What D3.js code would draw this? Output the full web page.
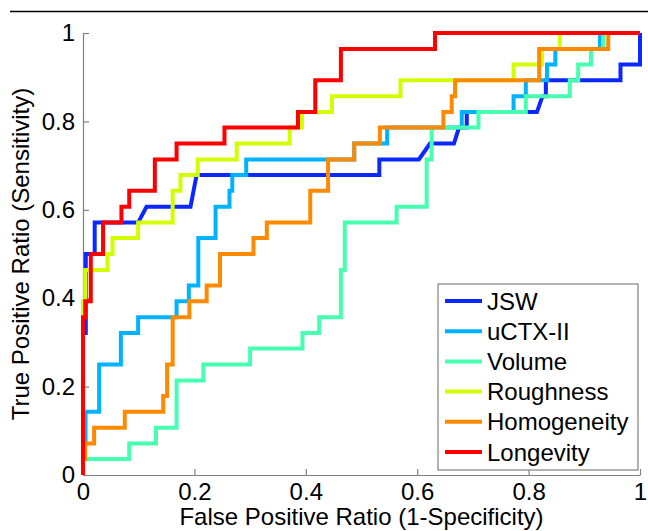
<!DOCTYPE html>
<html>
<head>
<meta charset="utf-8">
<script src="https://cdn.jsdelivr.net/npm/d3@7"></script>
<style>
  body { margin: 0; background: #fff; }
  svg { display: block; font-family: "Liberation Sans", Arial, sans-serif; }
</style>
</head>
<body>
<div id="chart"></div>
<script>
'use strict'

// series names, legend order (also draw order)
const names = ['JSW', 'uCTX-II', 'Volume', 'Roughness', 'Homogeneity', 'Longevity']
const colors = ['#0a28ff', '#00b2ff', '#46ffb0', '#d2ff00', '#ff8a00', '#ff0000']

// ROC vertices (false positive ratio, true positive ratio)
const jswFpr = [0, 0, 0.005, 0.005, 0.021, 0.021, 0.099, 0.114, 0.193, 0.204, 0.532, 0.532, 0.603, 0.623, 0.666, 0.675, 0.689, 0.689, 0.815, 0.825, 0.831, 0.831, 0.965, 0.965, 1, 1]
const jswTpr = [0, 0.321, 0.321, 0.5, 0.5, 0.571, 0.571, 0.607, 0.607, 0.679, 0.679, 0.714, 0.714, 0.75, 0.75, 0.786, 0.786, 0.821, 0.821, 0.857, 0.857, 0.893, 0.893, 0.929, 0.929, 1]

const ctxFpr = [0, 0, 0.0045, 0.0045, 0.029, 0.029, 0.068, 0.068, 0.099, 0.099, 0.168, 0.168, 0.19, 0.19, 0.207, 0.207, 0.238, 0.238, 0.263, 0.263, 0.268, 0.268, 0.293, 0.293, 0.487, 0.487, 0.546, 0.546, 0.68, 0.68, 0.773, 0.773, 0.795, 0.795, 0.833, 0.833, 0.848, 0.848, 0.928, 0.928, 1]
const ctxTpr = [0, 0.071, 0.071, 0.143, 0.143, 0.25, 0.25, 0.321, 0.321, 0.357, 0.357, 0.393, 0.393, 0.429, 0.429, 0.536, 0.536, 0.607, 0.607, 0.643, 0.643, 0.679, 0.679, 0.714, 0.714, 0.75, 0.75, 0.786, 0.786, 0.821, 0.821, 0.857, 0.857, 0.893, 0.893, 0.929, 0.929, 0.964, 0.964, 1, 1]

const volFpr = [0, 0, 0.083, 0.083, 0.131, 0.131, 0.168, 0.168, 0.216, 0.216, 0.3, 0.3, 0.394, 0.394, 0.424, 0.424, 0.463, 0.463, 0.47, 0.47, 0.563, 0.563, 0.617, 0.617, 0.626, 0.626, 0.71, 0.71, 0.795, 0.795, 0.874, 0.874, 0.889, 0.889, 0.912, 0.912, 0.934, 0.934, 1]
const volTpr = [0, 0.036, 0.036, 0.071, 0.071, 0.107, 0.107, 0.214, 0.214, 0.25, 0.25, 0.286, 0.286, 0.321, 0.321, 0.357, 0.357, 0.464, 0.464, 0.571, 0.571, 0.607, 0.607, 0.714, 0.714, 0.786, 0.786, 0.821, 0.821, 0.857, 0.857, 0.893, 0.893, 0.929, 0.929, 0.964, 0.964, 1, 1]

const rouFpr = [0, 0, 0.004, 0.004, 0.044, 0.044, 0.053, 0.053, 0.099, 0.099, 0.161, 0.161, 0.175, 0.175, 0.206, 0.206, 0.276, 0.276, 0.371, 0.371, 0.393, 0.393, 0.447, 0.447, 0.57, 0.57, 0.773, 0.773, 0.824, 0.824, 0.856, 0.856, 1]
const rouTpr = [0, 0.393, 0.393, 0.464, 0.464, 0.5, 0.5, 0.536, 0.536, 0.571, 0.571, 0.643, 0.643, 0.679, 0.679, 0.714, 0.714, 0.75, 0.75, 0.786, 0.786, 0.821, 0.821, 0.857, 0.857, 0.893, 0.893, 0.929, 0.929, 0.964, 0.964, 1, 1]

const homFpr = [0, 0, 0.004, 0.004, 0.02, 0.02, 0.075, 0.075, 0.144, 0.144, 0.151, 0.151, 0.161, 0.161, 0.191, 0.191, 0.222, 0.222, 0.246, 0.246, 0.306, 0.306, 0.33, 0.33, 0.408, 0.408, 0.44, 0.44, 0.487, 0.487, 0.533, 0.533, 0.647, 0.647, 0.662, 0.662, 0.668, 0.668, 0.819, 0.819, 0.943, 0.943, 1]
const homTpr = [0, 0.036, 0.036, 0.071, 0.071, 0.107, 0.107, 0.143, 0.143, 0.179, 0.179, 0.25, 0.25, 0.357, 0.357, 0.393, 0.393, 0.429, 0.429, 0.5, 0.5, 0.536, 0.536, 0.571, 0.571, 0.643, 0.643, 0.714, 0.714, 0.75, 0.75, 0.786, 0.786, 0.821, 0.821, 0.857, 0.857, 0.893, 0.893, 0.964, 0.964, 1, 1]

const lonFpr = [0, 0, 0.004, 0.004, 0.014, 0.014, 0.036, 0.036, 0.069, 0.069, 0.083, 0.083, 0.129, 0.129, 0.168, 0.168, 0.254, 0.254, 0.386, 0.386, 0.417, 0.417, 0.463, 0.463, 0.632, 0.632, 1]
const lonTpr = [0, 0.357, 0.357, 0.393, 0.393, 0.5, 0.5, 0.571, 0.571, 0.607, 0.607, 0.643, 0.643, 0.714, 0.714, 0.75, 0.75, 0.786, 0.786, 0.821, 0.821, 0.893, 0.893, 0.964, 0.964, 1, 1]

const xTicks = [0, 0.2, 0.4, 0.6, 0.8, 1]
const yTicks = [0, 0.2, 0.4, 0.6, 0.8, 1]

const fprs = [jswFpr, ctxFpr, volFpr, rouFpr, homFpr, lonFpr]
const tprs = [jswTpr, ctxTpr, volTpr, rouTpr, homTpr, lonTpr]

// layout
const W = 648, H = 531
const margin = { top: 33, right: 8, bottom: 56, left: 83 }
const width = W - margin.left - margin.right
const height = H - margin.top - margin.bottom
const axisGrey = '#808080'

const x = d3.scaleLinear().domain([0, 1]).range([0, width])
const y = d3.scaleLinear().domain([0, 1]).range([height, 0])

const svg = d3.select('#chart').append('svg')
    .attr('width', W)
    .attr('height', H)

// rule above the figure (page separator in the source)
svg.append('line')
    .attr('x1', 10).attr('x2', W)
    .attr('y1', 11.5).attr('y2', 11.5)
    .attr('stroke', '#000')
    .attr('stroke-width', 1.5)

const g = svg.append('g')
    .attr('transform', `translate(${margin.left},${margin.top})`)

const fmt = d3.format('~g')

// x axis, ticks pointing inward
const xAxis = g.append('g')
    .attr('transform', `translate(0,${height})`)
    .call(d3.axisBottom(x).tickValues(xTicks).tickFormat(fmt)
        .tickSizeInner(-6).tickSizeOuter(0).tickPadding(8))
// y axis
const yAxis = g.append('g')
    .call(d3.axisLeft(y).tickValues(yTicks).tickFormat(fmt)
        .tickSizeInner(-6).tickSizeOuter(0).tickPadding(8))

for (const ax of [xAxis, yAxis]) {
    ax.select('.domain').attr('stroke', axisGrey).attr('stroke-width', 1.2)
    ax.selectAll('.tick line').attr('stroke', axisGrey).attr('stroke-width', 1.2)
    ax.selectAll('.tick text')
        .attr('fill', '#000')
        .style('font-size', '24px')
        .style('font-family', '"Liberation Sans", Arial, sans-serif')
}

// axis titles
svg.append('text')
    .attr('x', margin.left + width / 2)
    .attr('y', 525)
    .attr('text-anchor', 'middle')
    .style('font-size', '24px')
    .text('False Positive Ratio (1-Specificity)')

svg.append('text')
    .attr('transform', `translate(29,${margin.top + height / 2}) rotate(-90)`)
    .attr('text-anchor', 'middle')
    .style('font-size', '24px')
    .text('True Positive Ratio (Sensitivity)')

// the curves
const line = d3.line()
    .x(d => x(d[0]))
    .y(d => y(d[1]))

names.forEach((name, i) => {
    const pts = fprs[i].map((f, j) => [f, tprs[i][j]])
    g.append('path')
        .datum(pts)
        .attr('fill', 'none')
        .attr('stroke', colors[i])
        .attr('stroke-width', 4)
        .attr('stroke-linejoin', 'miter')
        .attr('d', line)
})

// legend
const lg = svg.append('g').attr('transform', 'translate(438,284)')
lg.append('rect')
    .attr('width', 200).attr('height', 186)
    .attr('fill', '#fff')
    .attr('stroke', axisGrey)
    .attr('stroke-width', 1.2)

names.forEach((name, i) => {
    const ly = 17 + i * 30.2
    lg.append('line')
        .attr('x1', 7).attr('x2', 44)
        .attr('y1', ly).attr('y2', ly)
        .attr('stroke', colors[i])
        .attr('stroke-width', 4)
    lg.append('text')
        .attr('x', 49)
        .attr('y', ly)
        .attr('dy', '0.36em')
        .style('font-size', '24px')
        .text(name)
})
</script>
</body>
</html>
